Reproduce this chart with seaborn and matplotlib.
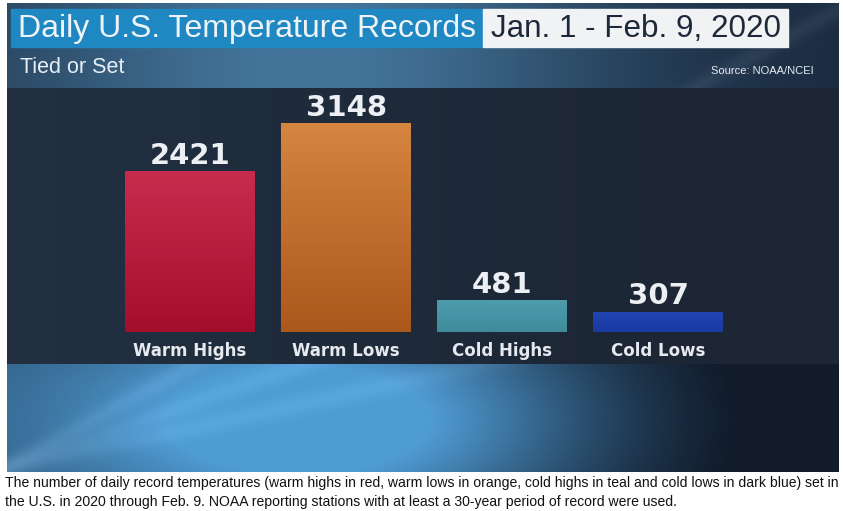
import numpy as np
import matplotlib
matplotlib.use("Agg")
import matplotlib.pyplot as plt
from matplotlib.colors import to_rgb
import seaborn as sns

# =========================
# Data
# =========================
categories = ["Warm Highs", "Warm Lows", "Cold Highs", "Cold Lows"]
record_counts = [2421, 3148, 481, 307]
top_colors = ["#c92b4d", "#d4853f", "#4d9dad", "#2145b3"]
bottom_colors = ["#a40e2d", "#ab581c", "#3f8b9c", "#1a3aa2"]

title_main = "Daily U.S. Temperature Records"
title_dates = "Jan. 1 - Feb. 9, 2020"
subtitle = "Tied or Set"
source_note = "Source: NOAA/NCEI"
caption_lines = [
    "The number of daily record temperatures (warm highs in red, warm lows in orange, "
    "cold highs in teal and cold lows in dark blue) set in",
    "the U.S. in 2020 through Feb. 9. NOAA reporting stations with at least a "
    "30-year period of record were used.",
]

# =========================
# Figure setup (pixel helpers)
# =========================
W, H = 843, 511
sns.set_theme(style="white")
plt.rcParams["font.family"] = ["Liberation Sans", "DejaVu Sans"]

fig = plt.figure(figsize=(W / 100, H / 100), dpi=100)
fig.patch.set_facecolor("white")


def box(x0, y0, x1, y1):
    return [x0 / W, 1 - y1 / H, (x1 - x0) / W, (y1 - y0) / H]


def fx(x):
    return x / W


def fy(y):
    return 1 - y / H


# =========================
# Background (TV graphic style)
# =========================
img_x0, img_x1, img_y0, img_y1 = 7, 839, 3, 472
bw, bh = img_x1 - img_x0, img_y1 - img_y0
yy, xx = np.mgrid[0:bh, 0:bw].astype(float)
yy += img_y0
xx += img_x0


def mix(c1, c2, t):
    c1 = np.array(to_rgb(c1))
    c2 = np.array(to_rgb(c2))
    t = np.clip(t, 0, 1)[..., None]
    return c1 * (1 - t) + c2 * t


# header: blue glow at centre-left, dark to the right
glow_top = np.exp(-((xx - 320) / 300) ** 2)
header = mix("#1a2a3e", "#44769c", glow_top * 0.85 + 0.15 * np.clip((700 - xx) / 400, 0, 1))
# dark panel behind bars
panel = mix("#1c2634", "#243447", np.clip(1 - xx / 700, 0, 1) * 0.7)
# bottom light strip
glow_bot = np.exp(-((xx - 330) / 260) ** 2) * np.exp(-((yy - 420) / 110) ** 2)
bottom = mix("#111b2a", "#4f9bd3", np.clip(glow_bot * 1.0 + 0.45 * (1 - xx / 620), 0, 1))

bg = np.where((yy < 88)[..., None], header, np.where((yy < 364)[..., None], panel, bottom))

# a few soft diagonal light rays from the lower left
mask = ((yy < 88) | (yy >= 364))[..., None]
for x_start, slope, strength in [(0, 0.55, 0.05), (0, 0.35, 0.04), (0, 0.22, 0.04)]:
    d = np.abs((470 - yy) - slope * (xx - x_start))
    ray = np.exp(-(d / 10) ** 2) * strength
    bg = np.where(mask, np.clip(bg + ray[..., None], 0, 1), bg)

ax_bg = fig.add_axes(box(img_x0, img_y0, img_x1, img_y1))
ax_bg.imshow(bg, aspect="auto", interpolation="bilinear")
ax_bg.axis("off")

# =========================
# Header texts
# =========================
fig.patches.append(plt.Rectangle((fx(11), fy(47)), (483 - 11) / W, (47 - 9) / H,
                                 transform=fig.transFigure, color="#1f88c2", zorder=1))
fig.patches.append(plt.Rectangle((fx(483), fy(47)), (788 - 483) / W, (47 - 9) / H,
                                 transform=fig.transFigure, color="#f1f2f4", zorder=1))
fig.text(fx(18), fy(29), title_main, color="#eef3f8", fontsize=23,
         va="center", ha="left", zorder=3)
fig.text(fx(491), fy(29), title_dates, color="#1d2838", fontsize=22.6,
         va="center", ha="left", zorder=3)
fig.text(fx(20), fy(67), subtitle, color="#e8eef5", fontsize=15.5,
         va="center", ha="left", zorder=3)
fig.text(fx(814), fy(71.5), source_note, color="#e6ebf2", fontsize=8,
         va="center", ha="right", zorder=3)

# =========================
# Bars
# =========================
px_per_unit = (332 - 123) / 3148
ax = fig.add_axes(box(112, 88, 736, 332))
ax.set_facecolor("none")
sns.barplot(x=categories, y=record_counts, hue=categories, palette=top_colors,
            width=0.833, saturation=1, legend=False, ax=ax)
ax.set_xlim(-0.5, 3.5)
ax.set_ylim(0, (332 - 88) / px_per_unit)

for patch, c_top, c_bot in zip(ax.patches, top_colors, bottom_colors):
    x0, y0 = patch.get_x(), patch.get_y()
    w, h = patch.get_width(), patch.get_height()
    grad = mix(c_bot, c_top, np.linspace(0, 1, 64)[:, None])
    im = ax.imshow(grad, extent=[x0, x0 + w, y0, y0 + h], origin="lower",
                   aspect="auto", zorder=2)
    im.set_clip_path(patch)
    patch.set_edgecolor("none")

ax.set_xlim(-0.5, 3.5)
ax.set_ylim(0, (332 - 88) / px_per_unit)

for container in ax.containers:
    ax.bar_label(container, fmt="%d", padding=1, color="#eceff3",
                 fontsize=21, fontweight="bold", family="DejaVu Sans")

ax.tick_params(axis="x", length=0, pad=7, labelsize=12, labelcolor="#e6e9ee")
for lab in ax.get_xticklabels():
    lab.set_fontweight("bold")
    lab.set_family("DejaVu Sans")
ax.set_yticks([])
ax.set_xlabel("")
ax.set_ylabel("")
for s in ax.spines.values():
    s.set_visible(False)

# =========================
# Caption
# =========================
fig.text(fx(5), fy(487), caption_lines[0], color="#111111", fontsize=10.1,
         va="baseline", ha="left")
fig.text(fx(5), fy(506), caption_lines[1], color="#111111", fontsize=10.1,
         va="baseline", ha="left")

fig.savefig("out.png", dpi=100, facecolor="white")
